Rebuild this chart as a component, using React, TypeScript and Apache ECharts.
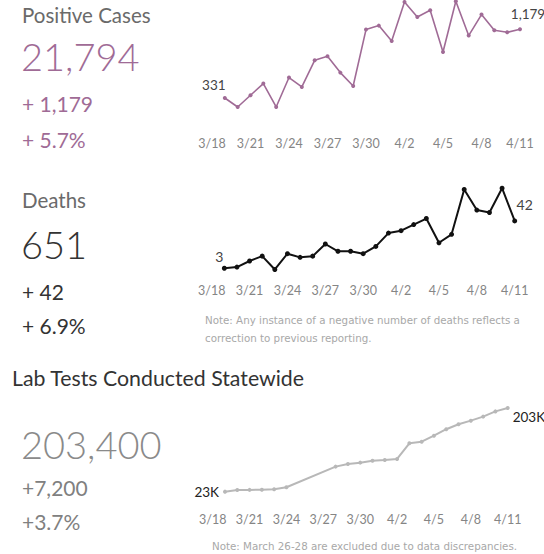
import React, { useEffect, useRef } from "react";
import * as echarts from "echarts";

const dates = [
  "3/18", "3/19", "3/20", "3/21", "3/22", "3/23", "3/24", "3/25", "3/26", "3/27", "3/28", "3/29", "3/30", "3/31",
  "4/1", "4/2", "4/3", "4/4", "4/5", "4/6", "4/7", "4/8", "4/9", "4/10", "4/11",
];

const positiveCases = [
  null, 331, 220, 365, 509, 220, 583, 467, 796, 846, 644, 479, 1175, 1224,
  1034, 1516, 1331, 1413, 899, 1524, 1101, 1360, 1166, 1142, 1179,
];

const deaths = [
  null, 3, 4, 9, 13, 2, 15, 12, 13, 23, 17, 17, 15, 21,
  32, 34, 39, 44, 24, 31, 68, 51, 49, 69, 42,
];

const labTests = [
  null, 23000, 26600, 26800, 27100, 28200, 32500, null, null, null, 77000, 82800, 85600, 89900,
  91400, 93600, 127400, 130900, 143800, 157700, 168500, 176200, 184900, 196200, 203400,
];

const positiveSummary = ["Positive Cases", "21,794", "+ 1,179", "+ 5.7%"];
const deathSummary = ["Deaths", "651", "+ 42", "+ 6.9%"];
const labSummary = ["Lab Tests Conducted Statewide", "203,400", "+7,200", "+3.7%"];
const deathNote = [
  "Note: Any instance of a negative number of deaths reflects a",
  "correction to previous reporting.",
];
const labNote = "Note: March 26-28 are excluded due to data discrepancies.";

const FONT = "Lato, 'Open Sans', 'DejaVu Sans', sans-serif";
const NOTE_FONT = "'DejaVu Sans', sans-serif";
const PURPLE = "#a06b96";

function withEndLabels(values: (number | null)[], first: any, last: any) {
  const firstIdx = values.findIndex((v) => v !== null);
  let lastIdx = values.length - 1;
  while (lastIdx >= 0 && values[lastIdx] === null) lastIdx--;
  return values.map((v, i) => {
    if (i === firstIdx) return { value: v, label: { show: true, ...first } };
    if (i === lastIdx) return { value: v, label: { show: true, ...last } };
    return v === null ? "-" : v;
  });
}

function txt(text: string, x: number, y: number, size: number, fill: string, weight: any = "normal", family = FONT) {
  return {
    type: "text",
    style: {
      text,
      x,
      y,
      fill,
      fontSize: size,
      fontFamily: family,
      fontWeight: weight,
      verticalAlign: "middle",
      align: "left",
    },
  };
}

export default function App() {
  const ref = useRef<HTMLDivElement>(null);
  useEffect(() => {
    const chart = echarts.init(ref.current!, null, { renderer: "svg" });
    const axisLabel = (margin: number) => ({
      interval: 2,
      margin,
      color: "#858585",
      fontSize: 12.5,
      fontFamily: FONT,
    });
    const xBase = (gridIndex: number, margin: number) => ({
      type: "category",
      gridIndex,
      data: dates,
      boundaryGap: false,
      axisLine: { show: false },
      axisTick: { show: false },
      splitLine: { show: false },
      axisLabel: axisLabel(margin),
    });
    const labelStyle = { fontSize: 13.5, color: "#444", fontFamily: FONT };
    chart.setOption({
      animation: false,
      grid: [
        { left: 212, right: 24, top: 0, height: 124.8 },
        { left: 211.7, right: 29.3, top: 187, height: 84.9 },
        { left: 212.7, right: 36.3, top: 405, height: 97.3 },
      ],
      xAxis: [xBase(0, 12), xBase(1, 12), xBase(2, 10.5)],
      yAxis: [
        { type: "value", gridIndex: 0, min: 0, max: 1540, show: false },
        { type: "value", gridIndex: 1, min: 0, max: 70, show: false },
        { type: "value", gridIndex: 2, min: 0, max: 210000, show: false },
      ],
      series: [
        {
          type: "line",
          xAxisIndex: 0,
          yAxisIndex: 0,
          clip: false,
          data: withEndLabels(
            positiveCases,
            { position: "top", offset: [-11, 1], ...labelStyle, formatter: (p: any) => p.value.toLocaleString("en-US") },
            { position: "top", offset: [8, -1], ...labelStyle, formatter: (p: any) => p.value.toLocaleString("en-US") }
          ),
          symbol: "circle",
          symbolSize: 4,
          lineStyle: { color: PURPLE, width: 1.6 },
          itemStyle: { color: PURPLE },
        },
        {
          type: "line",
          xAxisIndex: 1,
          yAxisIndex: 1,
          clip: false,
          data: withEndLabels(
            deaths,
            { position: "top", offset: [-5, 3], ...labelStyle, fontSize: 14 },
            { position: "top", offset: [10, -2], ...labelStyle, fontSize: 14 }
          ),
          symbol: "circle",
          symbolSize: 5,
          lineStyle: { color: "#111", width: 2 },
          itemStyle: { color: "#111" },
        },
        {
          type: "line",
          xAxisIndex: 2,
          yAxisIndex: 2,
          clip: false,
          connectNulls: true,
          data: withEndLabels(
            labTests,
            { position: "left", offset: [1, 0], ...labelStyle, color: "#222", formatter: (p: any) => Math.round(p.value / 1000) + "K" },
            { position: "right", offset: [-2, 9], ...labelStyle, color: "#222", formatter: (p: any) => Math.round(p.value / 1000) + "K" }
          ),
          symbol: "circle",
          symbolSize: 4,
          lineStyle: { color: "#b8b8b8", width: 2 },
          itemStyle: { color: "#b8b8b8" },
        },
      ],
      graphic: [
        txt(positiveSummary[0], 22, 15, 20.5, "#6a6a6a"),
        txt(positiveSummary[1], 21, 56, 38, PURPLE, 300),
        txt(positiveSummary[2], 22, 103, 21, PURPLE),
        txt(positiveSummary[3], 22, 139, 21, PURPLE),
        txt(deathSummary[0], 22, 200, 20.5, "#6a6a6a"),
        txt(deathSummary[1], 21, 244, 38, "#333", 300),
        txt(deathSummary[2], 22, 291, 21, "#333"),
        txt(deathSummary[3], 22, 325, 21, "#333"),
        txt(labSummary[0], 12, 378, 21.3, "#333"),
        txt(labSummary[1], 21, 444, 38, "#8a8a8a", 300),
        txt(labSummary[2], 22, 487, 21, "#808080"),
        txt(labSummary[3], 22, 521, 21, "#808080"),
        txt(deathNote[0], 205, 320, 10.3, "#a8a8a8", "normal", NOTE_FONT),
        txt(deathNote[1], 205, 338, 10.3, "#a8a8a8", "normal", NOTE_FONT),
        txt(labNote, 212, 546, 10.3, "#a8a8a8", "normal", NOTE_FONT),
      ],
    });
    return () => chart.dispose();
  }, []);
  return (
    <div
      ref={ref}
      style={{ position: "absolute", left: 0, top: 0, width: 544, height: 554 }}
    />
  );
}
